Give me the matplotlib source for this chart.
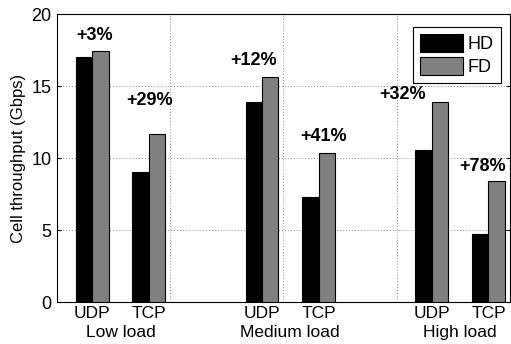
import matplotlib.pyplot as plt
import numpy as np

plt.rcParams['font.family'] = ['Liberation Sans', 'DejaVu Sans']

loads = ["Low load", "Medium load", "High load"]
protocols = ["UDP", "TCP"]
hd = [17.0, 9.03, 13.9, 7.31, 10.55, 4.72]
fd = [17.45, 11.67, 15.6, 10.32, 13.88, 8.4]
gains = ["+3%", "+29%", "+12%", "+41%", "+32%", "+78%"]

# bar centres: two protocols per load, one empty slot between loads
x = np.array([1, 2, 4, 5, 7, 8])
w = 0.29

fig = plt.figure(figsize=(5.11, 3.44), dpi=100)
ax = fig.add_axes([0.1115, 0.122, 0.8865, 0.837])

ax.bar(x - w / 2, hd, w, color='black', edgecolor='black', linewidth=0.8, label='HD', zorder=3)
ax.bar(x + w / 2, fd, w, color='#808080', edgecolor='black', linewidth=0.8, label='FD', zorder=3)

# percentage gain labels, nudged by hand above each pair
dx = [0.05, 0.01, -0.14, 0.08, -0.52, -0.1]
dy = [1.05, 2.3, 1.2, 1.2, 0.55, 1.0]
for xi, f, g, ox, oy in zip(x, fd, gains, dx, dy):
    ax.text(xi + ox, f + oy, g, ha='center', va='center', fontsize=13, fontweight='bold', zorder=4)

ax.set_xlim(0.38, 8.38)
ax.set_ylim(0, 20)
ax.set_yticks([0, 5, 10, 15, 20])
ax.set_xticks([0.38, 2.38, 4.38, 6.38, 8.38])
ax.set_xticklabels([])
ax.tick_params(axis='both', direction='in', length=3, labelsize=13, right=True, top=True, pad=4)
ax.tick_params(axis='x', length=0)
ax.grid(True, linestyle=(0, (1, 2.5)), color='#666666', linewidth=0.6, zorder=0)

for xi, p in zip(x, protocols * 3):
    ax.text(xi, -0.8, p, ha='center', va='center', fontsize=12.5)
for i, name in enumerate(loads):
    ax.text(1.5 + 3 * i, -2.1, name, ha='center', va='center', fontsize=12.5)

ax.set_ylabel("Cell throughput (Gbps)", fontsize=12, labelpad=4)

leg = ax.legend(loc='upper right', bbox_to_anchor=(0.98, 0.955), fontsize=13, fancybox=False,
                edgecolor='black', framealpha=1, handlelength=2.4, handleheight=1.15,
                borderpad=0.4, labelspacing=0.2, handletextpad=0.25, borderaxespad=0)
leg.get_frame().set_linewidth(0.8)

plt.savefig('out.png', dpi=100)
plt.close()
